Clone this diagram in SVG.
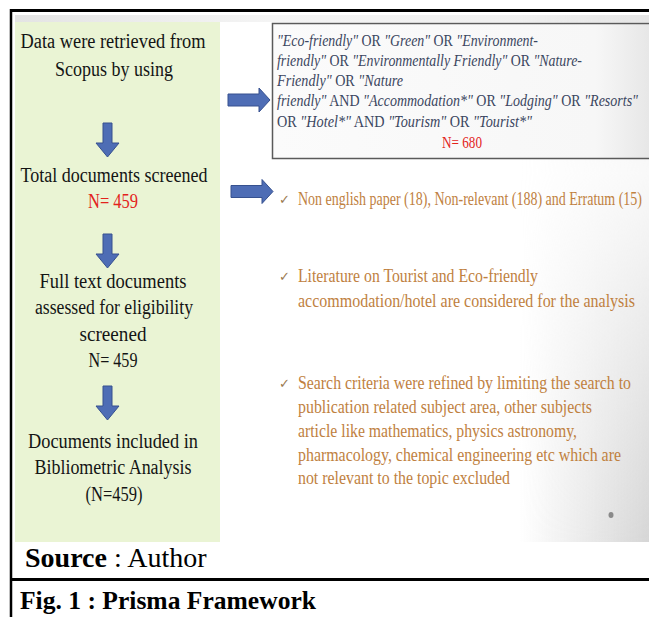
<svg xmlns="http://www.w3.org/2000/svg" width="649" height="617" viewBox="0 0 649 617">
<defs>
<linearGradient id="rightShade" x1="0" y1="0" x2="1" y2="0">
<stop offset="0" stop-color="#cfcfcf" stop-opacity="0"/>
<stop offset="1" stop-color="#cfcfcf" stop-opacity="0.85"/>
</linearGradient>
<linearGradient id="vFade" x1="0" y1="0" x2="0" y2="1">
<stop offset="0" stop-color="#fff" stop-opacity="0.3"/>
<stop offset="0.3" stop-color="#fff" stop-opacity="0.15"/>
<stop offset="1" stop-color="#fff" stop-opacity="1"/>
</linearGradient>
<mask id="shadeMask">
<rect x="0" y="15" width="649" height="527" fill="url(#vFade)"/>
</mask>
<linearGradient id="topBand" x1="0" y1="0" x2="1" y2="0">
<stop offset="0" stop-color="#e4e4e4"/>
<stop offset="0.4" stop-color="#f4f4f4"/>
<stop offset="1" stop-color="#ededed"/>
</linearGradient>
<linearGradient id="boxFill" x1="0" y1="0" x2="1" y2="0">
<stop offset="0" stop-color="#fbfbfb"/>
<stop offset="0.85" stop-color="#f7f7f7"/>
<stop offset="1" stop-color="#e6e6e6"/>
</linearGradient>
<path id="downArrow" d="M-4.5,0 H4.5 V20 H11.5 L0,34 L-11.5,20 H-4.5 Z"/>
<path id="rightArrow" d="M0,-6 H31 V-12 L42,0 L31,12 V6 H0 Z"/>
</defs>
<style>
.frame{stroke:#000;fill:none}
.lt{font-family:"Liberation Serif","DejaVu Serif",serif;font-size:20px;fill:#141414;text-anchor:middle}
.q{font-family:"Liberation Serif","DejaVu Serif",serif;font-size:16.5px;fill:#3b4660}
.qi{font-style:italic}
.b{font-family:"Liberation Serif","DejaVu Serif",serif;font-size:18px;fill:#c0813f}
.chk{font-family:"DejaVu Sans",sans-serif;font-size:13px;fill:#9b7a4f}
.arr{fill:#4e6db5;stroke:#36518f;stroke-width:1}
.cap{font-family:"Liberation Serif","Times New Roman",serif;fill:#000}
.lt.red,.q.red{fill:#e3231c}
</style>
<rect x="0" y="0" width="649" height="617" fill="#fff"/>
<rect x="15" y="15" width="634" height="527" fill="#fff"/>
<rect x="15" y="15" width="634" height="7" fill="url(#topBand)"/>
<rect x="520" y="15" width="129" height="527" fill="url(#rightShade)" mask="url(#shadeMask)"/>
<rect x="15" y="22" width="205" height="520" fill="#eaf4d4"/>

<g id="node-retrieved">
<text class="lt" x="113" y="48" textLength="185" lengthAdjust="spacingAndGlyphs">Data were retrieved from</text>
<text class="lt" x="114" y="76" textLength="118" lengthAdjust="spacingAndGlyphs">Scopus by using</text>
</g>
<g id="node-total">
<text class="lt" x="114" y="182" textLength="187" lengthAdjust="spacingAndGlyphs">Total documents screened</text>
<text class="lt red" x="113" y="208" textLength="50" lengthAdjust="spacingAndGlyphs">N= 459</text>
</g>
<g id="node-fulltext">
<text class="lt" x="113" y="288" textLength="147" lengthAdjust="spacingAndGlyphs">Full text documents</text>
<text class="lt" x="114" y="314" textLength="158" lengthAdjust="spacingAndGlyphs">assessed for eligibility</text>
<text class="lt" x="113" y="341" textLength="67" lengthAdjust="spacingAndGlyphs">screened</text>
<text class="lt" x="113" y="367" textLength="49" lengthAdjust="spacingAndGlyphs">N= 459</text>
</g>
<g id="node-included">
<text class="lt" x="113" y="448" textLength="170" lengthAdjust="spacingAndGlyphs">Documents included in</text>
<text class="lt" x="113" y="474" textLength="157" lengthAdjust="spacingAndGlyphs">Bibliometric Analysis</text>
<text class="lt" x="114" y="501" textLength="57" lengthAdjust="spacingAndGlyphs">(N=459)</text>
</g>

<g id="node-query">
<rect x="272.5" y="23.5" width="380" height="135" fill="url(#boxFill)" stroke="#5a5a5a" stroke-width="1.5"/>
<text class="q" x="277" y="46" textLength="261" lengthAdjust="spacingAndGlyphs"><tspan class="qi">"Eco-friendly"</tspan> OR <tspan class="qi">"Green"</tspan> OR <tspan class="qi">"Environment-</tspan></text>
<text class="q" x="277" y="66" textLength="305" lengthAdjust="spacingAndGlyphs"><tspan class="qi">friendly"</tspan> OR <tspan class="qi">"Environmentally Friendly"</tspan> OR <tspan class="qi">"Nature-</tspan></text>
<text class="q" x="277" y="86" textLength="126" lengthAdjust="spacingAndGlyphs"><tspan class="qi">Friendly"</tspan> OR <tspan class="qi">"Nature</tspan></text>
<text class="q" x="277" y="106" textLength="361" lengthAdjust="spacingAndGlyphs"><tspan class="qi">friendly"</tspan> AND <tspan class="qi">"Accommodation*"</tspan> OR <tspan class="qi">"Lodging"</tspan> OR <tspan class="qi">"Resorts"</tspan></text>
<text class="q" x="277" y="127" textLength="255" lengthAdjust="spacingAndGlyphs">OR <tspan class="qi">"Hotel*"</tspan> AND <tspan class="qi">"Tourism"</tspan> OR <tspan class="qi">"Tourist*"</tspan></text>
<text class="q red" x="462" y="148" text-anchor="middle" textLength="40" lengthAdjust="spacingAndGlyphs">N= 680</text>
</g>

<g id="node-excluded">
<text class="chk" x="279" y="204">✓</text>
<text class="b" x="298" y="205" textLength="344" lengthAdjust="spacingAndGlyphs">Non english paper (18), Non-relevant  (188) and Erratum (15)</text>
</g>
<g id="node-literature">
<text class="chk" x="279" y="281">✓</text>
<text class="b" x="298" y="282" textLength="240" lengthAdjust="spacingAndGlyphs">Literature  on Tourist and  Eco-friendly</text>
<text class="b" x="298" y="307" textLength="337" lengthAdjust="spacingAndGlyphs">accommodation/hotel  are considered  for the analysis</text>
</g>
<g id="node-criteria">
<text class="chk" x="279" y="388">✓</text>
<text class="b" x="298" y="389" textLength="333" lengthAdjust="spacingAndGlyphs">Search criteria were refined by limiting the search to</text>
<text class="b" x="298" y="413" textLength="294" lengthAdjust="spacingAndGlyphs">publication  related  subject area, other subjects</text>
<text class="b" x="298" y="437" textLength="279" lengthAdjust="spacingAndGlyphs">article like mathematics, physics astronomy,</text>
<text class="b" x="298" y="461" textLength="323" lengthAdjust="spacingAndGlyphs">pharmacology, chemical engineering etc which are</text>
<text class="b" x="298" y="484" textLength="212" lengthAdjust="spacingAndGlyphs">not relevant to the topic excluded</text>
</g>

<ellipse cx="611" cy="515" rx="2.5" ry="3" fill="#8a8a8a"/>

<g id="connectors">
<use href="#downArrow" class="arr" x="107.5" y="123"/>
<use href="#downArrow" class="arr" x="107.5" y="234"/>
<use href="#downArrow" class="arr" x="107.5" y="386"/>
<use href="#rightArrow" class="arr" x="228" y="100"/>
<use href="#rightArrow" class="arr" x="231" y="191.5"/>
</g>

<g id="caption">
<text class="cap" x="25" y="567" font-size="28"><tspan font-weight="bold">Source</tspan> : Author</text>
<text class="cap" x="20" y="609" font-size="25.5" font-weight="bold" textLength="296" lengthAdjust="spacingAndGlyphs">Fig. 1 : Prisma Framework</text>
</g>

<g id="frame">
<line class="frame" x1="11" y1="9" x2="11" y2="617" stroke-width="2.5"/>
<line class="frame" x1="10" y1="10.5" x2="649" y2="10.5" stroke-width="3"/>
<line class="frame" x1="10" y1="579.5" x2="649" y2="579.5" stroke-width="3"/>
</g>
</svg>
